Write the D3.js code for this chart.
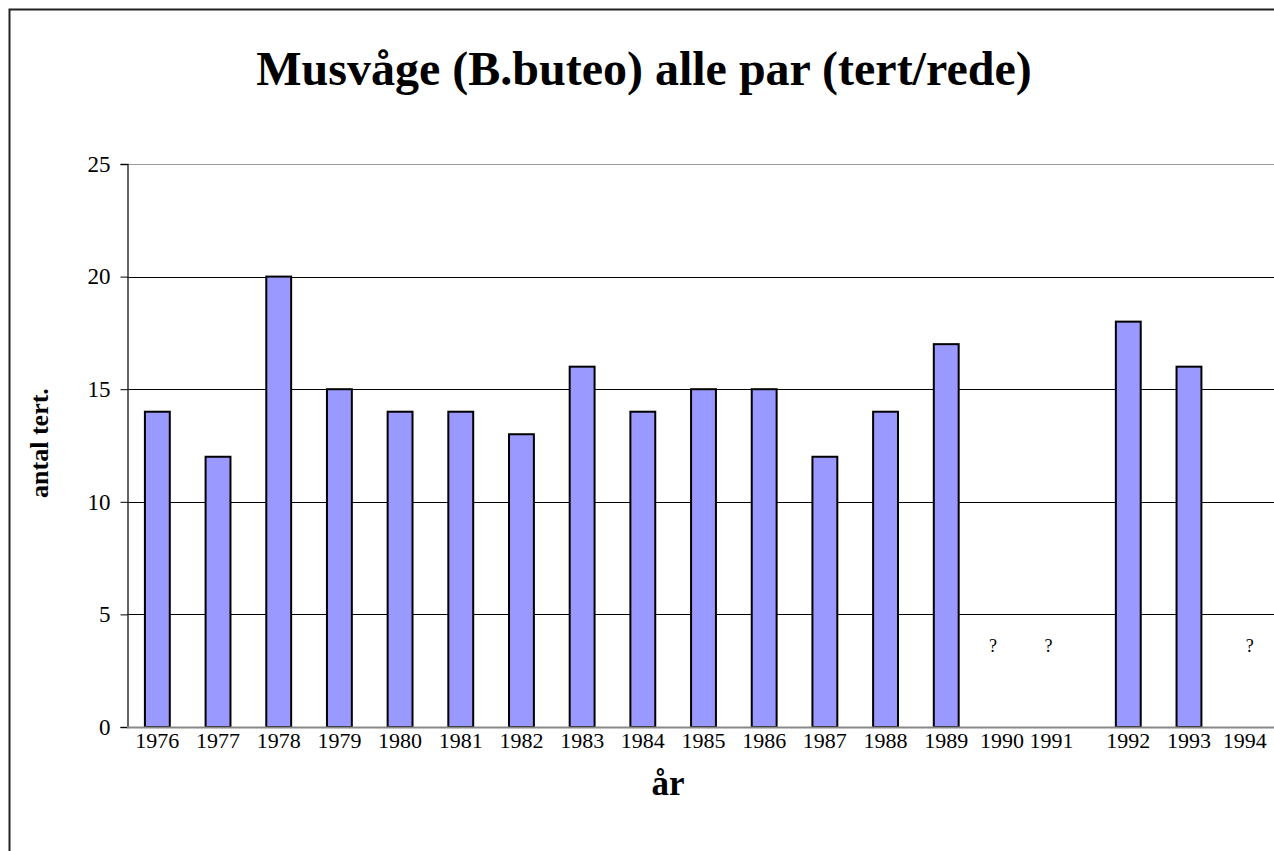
<!DOCTYPE html>
<html>
<head>
<meta charset="utf-8">
<script src="https://cdn.jsdelivr.net/npm/d3@7/dist/d3.min.js"></script>
<style>
  body { margin: 0; background: #fff; }
  svg text { font-family: "Liberation Serif", "Times New Roman", serif; fill: #000; }
</style>
</head>
<body>
<svg id="chart" width="1274" height="851"></svg>
<script>
var years = ["1976", "1977", "1978", "1979", "1980", "1981", "1982", "1983", "1984", "1985",
             "1986", "1987", "1988", "1989", "1990", "1991", "1992", "1993", "1994"];
// null = ukendt (vist som "?")
var tert = [14, 12, 20, 15, 14, 14, 13, 16, 14, 15, 15, 12, 14, 17, null, null, 18, 16, null];
var yTicks = [0, 5, 10, 15, 20, 25];

var margin = { left: 127, top: 164, right: 1280, bottom: 727 };
var svg = d3.select("#chart");

// outer frame
svg.append("rect")
    .attr("x", 9.5).attr("y", 9.5)
    .attr("width", 1300).attr("height", 900)
    .style("fill", "none").style("stroke", "#222").style("stroke-width", 2);

var x = d3.scaleBand().domain(years).range([margin.left, margin.right]).paddingInner(0.59).paddingOuter(0.295);
var y = d3.scaleLinear().domain([0, 25]).range([margin.bottom, margin.top]);

// gridlines
svg.append("g").selectAll("line")
    .data(yTicks.filter(function(d) { return d > 0; }))
    .enter().append("line")
    .attr("x1", margin.left).attr("x2", 1274)
    .attr("y1", function(d) { return Math.round(y(d)) + 0.5; })
    .attr("y2", function(d) { return Math.round(y(d)) + 0.5; })
    .style("stroke", function(d) { return d == 25 ? "#999" : "#000"; })
    .style("stroke-width", 1);

// y axis
var yAxis = svg.append("g")
    .attr("transform", "translate(" + (margin.left + 0.5) + ",0)")
    .call(d3.axisLeft(y).tickValues(yTicks).tickSize(7).tickPadding(10));
yAxis.select(".domain").style("stroke", "#333").style("stroke-width", 1.5);
yAxis.selectAll(".tick line").style("stroke", "#000");
yAxis.selectAll(".tick text").style("font-size", "23px").style("font-family", "Liberation Serif");

// bars
svg.append("g").selectAll("rect")
    .data(years.map(function(d, i) { return { year: d, v: tert[i] }; }).filter(function(d) { return d.v != null; }))
    .enter().append("rect")
    .attr("x", function(d) { return x(d.year); })
    .attr("y", function(d) { return y(d.v); })
    .attr("width", x.bandwidth())
    .attr("height", function(d) { return y(0) - y(d.v); })
    .style("fill", "#9999ff")
    .style("stroke", "#000")
    .style("stroke-width", 2);

// question marks for missing years
svg.append("g").selectAll("text")
    .data(years.filter(function(d, i) { return tert[i] == null; }))
    .enter().append("text")
    .attr("x", function(d) { return x(d) + x.bandwidth() / 2 + (d == "1990" ? -14 : d == "1991" ? -19 : 0); })
    .attr("y", 652)
    .attr("text-anchor", "middle")
    .style("font-size", "18px")
    .text("?");

// x axis
var xAxis = svg.append("g")
    .attr("transform", "translate(0," + (margin.bottom + 0.5) + ")")
    .call(d3.axisBottom(x).tickSize(0).tickPadding(5));
xAxis.select(".domain").remove();
svg.append("line")
    .attr("x1", margin.left).attr("x2", 1274)
    .attr("y1", margin.bottom + 0.5).attr("y2", margin.bottom + 0.5)
    .style("stroke", "#888").style("stroke-width", 2);
xAxis.selectAll(".tick text")
    .style("font-size", "22px").style("font-family", "Liberation Serif")
    .attr("dx", function(d) { return d == "1990" ? -5 : d == "1991" ? -16 : d == "1994" ? -5 : 0; });

// titles
svg.append("text")
    .attr("x", 644).attr("y", 85)
    .attr("text-anchor", "middle")
    .style("font-size", "48px").style("font-weight", "bold")
    .text("Musvåge (B.buteo) alle par (tert/rede)");

svg.append("text")
    .attr("transform", "translate(48,443) rotate(-90)")
    .attr("text-anchor", "middle")
    .style("font-size", "26px").style("font-weight", "bold")
    .text("antal tert.");

svg.append("text")
    .attr("x", 668).attr("y", 795)
    .attr("text-anchor", "middle")
    .style("font-size", "35px").style("font-weight", "bold")
    .text("år");
</script>
</body>
</html>
